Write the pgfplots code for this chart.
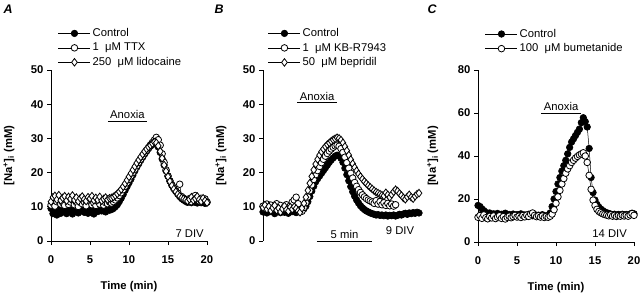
\documentclass[border=0pt]{standalone}
\usepackage{fontspec}
\setmainfont{Liberation Sans}
\usepackage{pgfplots}
\pgfplotsset{compat=1.18}
\newcommand{\fs}{\fontsize{11.3}{13}\selectfont}
\pgfplotsset{
  leg/.style={legend image code/.code={\draw[mark repeat=2,mark phase=2,##1] plot coordinates {(0bp,0bp) (16bp,0bp) (32bp,0bp)};}},
  panel/.style={
    scale only axis, width=156bp, height=171bp,
    axis y line=left, axis x line=bottom, axis line style={-, line width=0.8pt},
    tick align=outside, major tick length=4bp, tick style={line width=0.8pt, black},
    xmin=0, xmax=20, xtick={0,5,10,15,20},
    ymin=0, clip=false,
    /pgf/number format/assume math mode=true,
    tick label style={font=\fs\bfseries},
    xticklabel style={yshift=-7bp},
    label style={font=\fs\bfseries},
    legend cell align=left,
    legend style={draw=none, fill=none, font=\fs, anchor=north west, inner sep=0pt, row sep=1bp},
    xlabel style={at={(axis description cs:0.5,0)}, anchor=center, yshift=-46bp},
    ylabel style={at={(axis description cs:-0.27,0.5)}, anchor=center},
    ylabel={[Na\textsuperscript{+}]\textsubscript{i} (mM)},
  },
  ctrl/.style={leg, black, line width=0.5pt, mark=*, mark size=3.3bp, mark options={fill=black, line width=0.6pt}},
  opc/.style={leg, black, line width=0.5pt, mark=*, mark size=3.3bp, mark options={fill=white, line width=0.8pt}},
  dia/.style={leg, black, line width=0.5pt, mark=diamond*, mark size=3.8bp, mark options={fill=white, line width=0.8pt}},
}
\begin{document}
\begin{tikzpicture}
\path[use as bounding box] (0,0) rectangle (640bp,294bp);
\node[font=\fontsize{12.5}{14}\selectfont\bfseries\itshape] at (8bp,285bp) {A};
\node[font=\fontsize{12.5}{14}\selectfont\bfseries\itshape] at (219bp,285bp) {B};
\node[font=\fontsize{12.5}{14}\selectfont\bfseries\itshape] at (432bp,285bp) {C};
% ---------------- Panel A
\begin{axis}[panel, at={(51bp,53bp)}, anchor=south west, ymax=50, ytick={0,10,...,50},
  xlabel={Time (min)}, legend style={at={(0.045,1.255)}}]
\addplot[ctrl] table {
0 9.5
0.25 8.0
0.5 8.8
0.75 7.6
1 9.2
1.25 8.1
1.5 8.6
1.75 9.4
2 8.0
2.25 8.7
2.5 9.1
2.75 7.9
3 8.5
3.25 9.3
3.5 8.2
3.75 8.8
4 9.6
4.25 8.4
4.5 9.0
4.75 8.1
5 9.5
5.25 8.3
5.5 7.9
5.75 9.2
6 8.6
6.25 9.4
6.5 8.8
6.75 9.1
7 8.5
7.25 9.3
7.5 9.0
7.75 9.2
8 9.5
8.25 10.0
8.5 10.6
8.75 11.5
9 12.5
9.25 13.6
9.5 14.8
9.75 15.9
10 17.0
10.25 18.1
10.5 19.3
10.75 20.5
11 21.6
11.25 22.6
11.5 23.6
11.75 24.5
12 25.4
12.25 26.2
12.5 27.0
12.75 27.7
13 28.2
13.25 28.6
13.5 28.4
13.75 27.5
14 25.9
14.25 24.0
14.5 22.2
14.75 20.5
15 19.0
15.25 17.6
15.5 16.4
15.75 15.4
16 14.5
16.25 13.7
16.5 13.0
16.75 12.4
17 12.0
17.25 11.6
17.5 11.3
17.75 11.5
18 11.2
18.25 11.6
18.5 11.3
18.75 11.1
19 11.5
19.25 11.2
19.5 11.4
19.75 11.0
20 11.3
};
\addlegendentry{Control}
\addplot[opc] table {
0 10.5
0.25 11.8
0.5 10.2
0.75 11.5
1 12.3
1.25 10.8
1.5 11.2
1.75 10.4
2 11.9
2.25 10.7
2.5 11.4
2.75 12.1
3 10.6
3.25 11.3
3.5 10.1
3.75 11.7
4 10.9
4.25 11.5
4.5 10.3
4.75 11.8
5 12.2
5.25 10.6
5.5 11.1
5.75 10.4
6 11.6
6.25 10.8
6.5 11.9
6.75 10.5
7 11.2
7.25 10.9
7.5 11.4
7.75 11.1
8 11.5
8.25 12.0
8.5 12.6
8.75 13.3
9 14.1
9.25 15.0
9.5 16.0
9.75 17.0
10 18.0
10.25 19.0
10.5 20.0
10.75 21.0
11 22.0
11.25 23.0
11.5 23.9
11.75 24.8
12 25.7
12.25 26.5
12.5 27.3
12.75 28.1
13 28.8
13.25 29.5
13.5 30.3
13.75 29.6
14 28.0
14.25 25.5
14.5 23.0
14.75 20.8
15 19.0
15.25 17.5
15.5 16.3
15.75 15.3
16 14.6
16.25 14.0
16.5 16.6
16.75 13.0
17 12.5
17.25 12.1
17.5 11.8
17.75 12.4
18 11.5
18.25 12.9
18.5 13.3
18.75 12.2
19 11.7
19.25 12.5
19.5 11.9
19.75 12.3
20 11.4
};
\addlegendentry{1~~μM TTX}
\addplot[dia] table {
0 11.5
0.25 12.8
0.5 13.2
0.75 12.1
1 13.4
1.25 11.9
1.5 12.6
1.75 13.1
2 11.8
2.25 12.9
2.5 12.3
2.75 13.3
3 12.0
3.25 12.7
3.5 11.6
3.75 12.5
4 13.0
4.25 12.2
4.5 11.7
4.75 12.8
5 12.4
5.25 13.1
5.5 11.9
5.75 12.6
6 12.0
6.25 12.9
6.5 11.8
6.75 12.3
7 12.7
7.25 12.1
7.5 12.5
7.75 12.6
8 12.9
8.25 13.3
8.5 13.8
8.75 14.4
9 15.1
9.25 15.9
9.5 16.8
9.75 17.8
10 18.8
10.25 19.8
10.5 20.8
10.75 21.8
11 22.8
11.25 23.7
11.5 24.6
11.75 25.4
12 26.2
12.25 26.9
12.5 27.5
12.75 28.0
13 28.5
13.25 28.9
13.5 28.7
13.75 27.8
14 26.2
14.25 24.2
14.5 22.2
14.75 20.4
15 18.8
15.25 17.4
15.5 16.2
15.75 15.2
16 14.4
16.25 13.7
16.5 13.1
16.75 12.6
17 12.3
17.25 12.0
17.5 11.7
17.75 12.2
18 12.8
18.25 11.9
18.5 12.4
18.75 13.0
19 12.1
19.25 11.6
19.5 12.5
19.75 11.8
20 11.2
};
\addlegendentry{250~~μM lidocaine}
\draw[line width=0.8pt] (axis cs:7.3,35.1) -- (axis cs:12.3,35.1) node[midway, above, inner sep=2bp, font=\fs] {Anoxia};
\node[anchor=east, font=\fs, inner sep=0pt] at (axis cs:19.6,2.3) {7 DIV};
\end{axis}
% ---------------- Panel B
\begin{axis}[panel, at={(263bp,53bp)}, anchor=south west, ymax=50, ytick={0,10,...,50},
  axis x line=none, legend style={at={(0.032,1.255)}}]
\addplot[ctrl] table {
0 8.5
0.25 9.4
0.5 8.2
0.75 9.0
1 8.6
1.25 9.3
1.5 8.0
1.75 8.8
2 9.5
2.25 8.3
2.5 9.1
2.75 8.4
3 8.9
3.25 8.1
3.5 9.2
3.75 8.6
4 9.0
4.25 8.3
4.5 8.8
4.75 8.5
5 9.1
5.25 9.4
5.5 10.2
5.75 11.5
6 13.0
6.25 14.6
6.5 16.0
6.75 17.3
7 18.2
7.25 19.0
7.5 19.8
7.75 20.6
8 21.4
8.25 22.2
8.5 23.0
8.75 23.7
9 24.3
9.25 24.8
9.5 25.1
9.75 24.9
10 24.2
10.25 23.0
10.5 21.3
10.75 19.4
11 17.6
11.25 15.9
11.5 14.4
11.75 13.1
12 12.0
12.25 11.1
12.5 10.3
12.75 9.7
13 9.2
13.25 8.8
13.5 8.5
13.75 8.2
14 8.0
14.25 7.8
14.5 7.6
14.75 7.7
15 7.5
15.25 7.6
15.5 7.4
15.75 7.6
16 7.3
16.25 7.5
16.5 7.4
16.75 7.6
17 7.3
17.25 7.5
17.5 7.8
17.75 7.6
18 7.9
18.25 8.1
18.5 7.8
18.75 8.2
19 8.0
19.25 8.3
19.5 8.1
19.75 8.4
20 8.2
};
\addlegendentry{Control}
\addplot[opc] table {
0 10.2
0.25 9.6
0.5 10.8
0.75 9.9
1 10.5
1.25 9.4
1.5 10.1
1.75 10.9
2 9.7
2.25 10.4
2.5 9.2
2.75 10.0
3 10.6
3.25 9.5
3.5 10.3
3.75 11.4
4 12.0
4.25 12.8
4.5 10.9
4.75 9.0
5 8.7
5.25 9.8
5.5 11.2
5.75 12.9
6 14.7
6.25 16.4
6.5 18.0
6.75 19.4
7 20.6
7.25 21.8
7.5 22.9
7.75 23.9
8 24.8
8.25 25.6
8.5 26.3
8.75 26.9
9 27.4
9.25 27.8
9.5 28.0
9.75 27.7
10 27.0
10.25 25.9
10.5 24.5
10.75 22.9
11 21.3
11.25 19.8
11.5 18.4
11.75 17.1
12 16.0
12.25 15.0
12.5 14.2
12.75 13.5
13 12.9
13.25 12.4
13.5 12.0
13.75 11.7
14 11.4
14.25 11.0
14.5 11.8
14.75 10.8
15 11.5
15.25 10.6
15.5 11.2
15.75 10.4
16 11.0
16.25 10.3
16.5 10.8
16.75 10.2
17 10.6
};
\addlegendentry{1~~μM KB-R7943}
\addplot[dia] table {
0 9.8
0.25 10.5
0.5 9.3
0.75 10.1
1 8.9
1.25 9.7
1.5 10.4
1.75 9.0
2 9.6
2.25 8.5
2.5 9.4
2.75 10.2
3 9.1
3.25 8.7
3.5 9.9
3.75 9.3
4 10.0
4.25 9.5
4.5 8.8
4.75 8.4
5 9.6
5.25 11.0
5.5 12.8
5.75 14.8
6 16.9
6.25 18.9
6.5 20.8
6.75 22.5
7 23.9
7.25 25.1
7.5 26.1
7.75 26.9
8 27.6
8.25 28.2
8.5 28.7
8.75 29.2
9 29.6
9.25 29.9
9.5 30.2
9.75 30.0
10 29.5
10.25 28.7
10.5 27.6
10.75 26.4
11 25.1
11.25 23.8
11.5 22.6
11.75 21.5
12 20.5
12.25 19.6
12.5 18.8
12.75 18.1
13 17.4
13.25 16.8
13.5 16.2
13.75 15.7
14 15.2
14.25 14.7
14.5 14.3
14.75 14.0
15 13.7
15.25 13.4
15.5 13.2
15.75 14.1
16 13.5
16.25 12.8
16.5 13.6
16.75 14.4
17 15.0
17.25 14.6
17.5 13.9
17.75 13.3
18 12.6
18.25 12.2
18.5 12.9
18.75 13.5
19 12.8
19.25 12.4
19.5 13.1
19.75 13.7
20 14.0
};
\addlegendentry{50~~μM bepridil}
\draw[line width=0.8pt] (axis cs:4.36,40.4) -- (axis cs:9.5,40.4) node[midway, above, inner sep=2bp, font=\fs] {Anoxia};
\draw[line width=0.8pt] (axis cs:6.9,0) -- (axis cs:14.0,0) node[midway, above, inner sep=2bp, font=\fs] {5 min};
\node[anchor=east, font=\fs, inner sep=0pt] at (axis cs:19.4,2.9) {9 DIV};
\end{axis}
% ---------------- Panel C
\begin{axis}[panel, at={(478bp,52bp)}, anchor=south west, height=172bp, ymax=80, ytick={0,20,...,80},
  xlabel={Time (min)}, ylabel style={at={(axis description cs:-0.29,0.5)}}, legend style={at={(0.045,1.25)}}]
\addplot[ctrl] table {
0 17.0
0.25 16.5
0.5 15.4
0.75 14.6
1 13.8
1.25 13.2
1.5 13.5
1.75 12.7
2 13.1
2.25 12.4
2.5 13.3
2.75 12.6
3 12.9
3.25 12.2
3.5 13.4
3.75 12.5
4 12.8
4.25 12.1
4.5 13.0
4.75 12.4
5 12.7
5.25 12.0
5.5 13.1
5.75 12.3
6 12.6
6.25 12.1
6.5 12.9
6.75 12.4
7 12.2
7.25 12.8
7.5 12.0
7.75 12.5
8 12.1
8.25 12.7
8.5 12.3
8.75 11.9
9 12.4
9.25 13.5
9.5 16.5
9.75 20.0
10 23.5
10.25 27.0
10.5 30.0
10.75 33.0
11 35.5
11.25 38.0
11.5 41.0
11.75 44.0
12 46.5
12.25 48.0
12.5 49.5
12.75 51.0
13 52.5
13.25 55.5
13.5 57.8
13.75 56.0
14 53.5
14.25 43.5
14.5 30.0
14.75 23.0
15 19.5
15.25 17.5
15.5 16.2
15.75 15.3
16 14.6
16.25 14.0
16.5 13.6
16.75 13.3
17 13.0
17.25 12.7
17.5 12.9
17.75 12.4
18 12.8
18.25 12.5
18.5 12.9
18.75 12.6
19 12.8
19.25 12.5
19.5 13.0
19.75 13.4
20 13.1
};
\addlegendentry{Control}
\addplot[opc] table {
0 11.5
0.25 12.3
0.5 11.0
0.75 12.6
1 11.3
1.25 10.8
1.5 11.9
1.75 11.2
2 12.1
2.25 10.9
2.5 11.6
2.75 12.2
3 11.0
3.25 11.8
3.5 10.7
3.75 11.5
4 12.0
4.25 11.3
4.5 11.8
4.75 12.4
5 11.6
5.25 12.0
5.5 11.4
5.75 12.3
6 11.7
6.25 12.5
6.5 11.9
6.75 13.0
7 13.5
7.25 12.4
7.5 11.8
7.75 12.2
8 11.6
8.25 12.1
8.5 11.4
8.75 11.9
9 11.5
9.25 12.0
9.5 13.0
9.75 15.0
10 18.0
10.25 21.0
10.5 24.0
10.75 27.0
11 29.5
11.25 32.0
11.5 34.0
11.75 35.5
12 37.0
12.25 38.0
12.5 39.0
12.75 39.8
13 40.5
13.25 41.0
13.5 41.5
13.75 40.0
14 37.0
14.25 31.0
14.5 24.5
14.75 19.5
15 17.0
15.25 15.2
15.5 14.2
15.75 13.6
16 13.1
16.25 12.8
16.5 12.5
16.75 12.2
17 12.6
17.25 12.0
17.5 12.4
17.75 11.9
18 12.3
18.25 12.0
18.5 12.5
18.75 12.1
19 12.4
19.25 12.0
19.5 12.6
19.75 13.2
20 12.4
};
\addlegendentry{100~~μM bumetanide}
\draw[line width=0.8pt] (axis cs:8.1,60) -- (axis cs:13.2,60) node[midway, above, inner sep=2bp, font=\fs] {Anoxia};
\node[anchor=east, font=\fs, inner sep=0pt] at (axis cs:19.1,3.7) {14 DIV};
\end{axis}
\end{tikzpicture}
\end{document}
